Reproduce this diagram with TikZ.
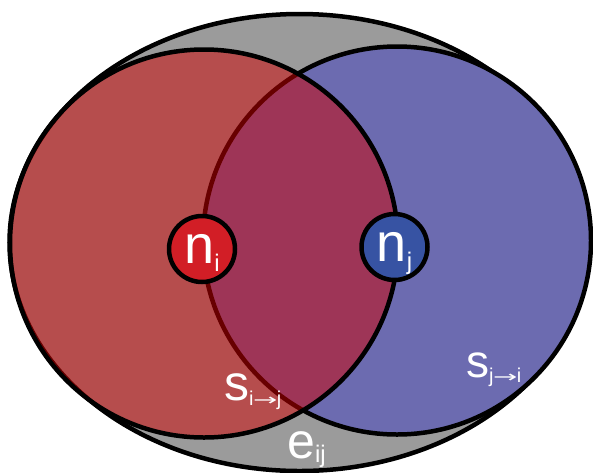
\documentclass[tikz,border=0pt]{standalone}
\usepackage{fontspec}
\setmainfont{Liberation Sans}
\newfontfamily\arrowfont{DejaVu Sans}
\usepackage{xcolor}
\usepackage{tikz}
\usetikzlibrary{positioning}

\definecolor{edgegray}{RGB}{155,155,155}
\definecolor{reach}{RGB}{209,0,0}
\definecolor{spreadblue}{RGB}{108,107,176}
\definecolor{nodered}{RGB}{210,30,38}
\definecolor{nodeblue}{RGB}{55,83,163}

\newcommand{\subtxt}[3]{\smash{\raisebox{-#1}{\fontsize{#2}{#2}\selectfont #3}}}
\newcommand{\toarrow}{\kern-0.5pt{\arrowfont\scalebox{1.45}[0.8]{→}}\kern-0.5pt}

\begin{document}
\begin{tikzpicture}[x=1pt, y=-1pt,
  zone/.style={draw=black, line width=4.5pt},
  site/.style={circle, draw=black, line width=4.5pt, minimum size=66pt, inner sep=0pt,
               text=white},
  lbl/.style={anchor=base west, inner sep=0pt, text=white}
]
  \useasboundingbox (0,0) rectangle (593,472);

  % Edge area
  \draw[zone, fill=edgegray] (299.5,242.5) ellipse [x radius=290pt, y radius=228.5pt];

  % Spread areas
  \draw[zone, fill=spreadblue] (397,240.5) circle [radius=194pt];
  \fill[reach, fill opacity=0.5] (204,243.5) circle [radius=194pt];
  \draw[zone] (204,243.5) circle [radius=194pt];

  % Nodes
  \node[site, fill=nodered] (ni) at (202,249)
    {{\fontsize{54}{54}\selectfont n}\subtxt{8pt}{24}{i}};
  \node[site, fill=nodeblue] (nj) at (394.5,247)
    {{\fontsize{54}{54}\selectfont n}\subtxt{8pt}{24}{j}};

  % Labels
  \node[lbl] (sij) at (224,400)
    {{\fontsize{50}{50}\selectfont s}\subtxt{5pt}{20}{i\toarrow j}};
  \node[lbl] (sji) at (466,377)
    {{\fontsize{46}{46}\selectfont s}\subtxt{5pt}{20}{j\toarrow i}};
  \node[lbl] (eij) at (287,458)
    {{\fontsize{50}{50}\selectfont e}\subtxt{4pt}{24}{ij}};
\end{tikzpicture}
\end{document}
